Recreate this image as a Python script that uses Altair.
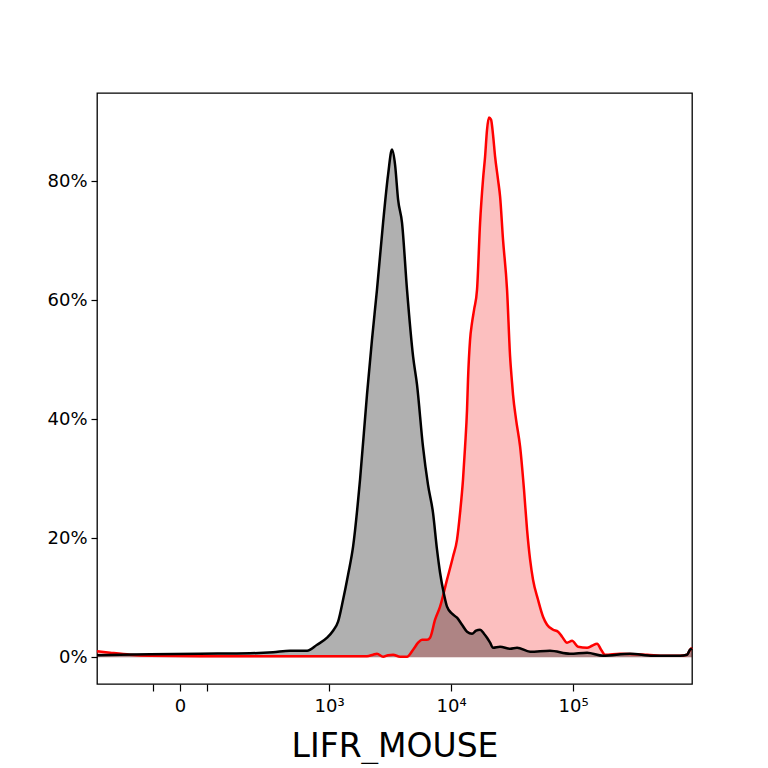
import altair as alt
import pandas as pd

# x positions are in "decade" units of the biexponential axis (3 -> 10^3, 4 -> 10^4 ...)
black_x = [1.098, 1.287, 1.533, 1.943, 2.352, 2.541, 2.680, 2.820, 2.902, 2.984,
           3.033, 3.074, 3.115, 3.156, 3.197, 3.254, 3.311, 3.352, 3.393, 3.443,
           3.484, 3.516, 3.541, 3.566, 3.598, 3.639, 3.689, 3.721, 3.770, 3.811,
           3.852, 3.885, 3.910, 3.943, 3.967, 4.008, 4.049, 4.090, 4.131, 4.172,
           4.205, 4.238, 4.270, 4.295, 4.320, 4.344, 4.402, 4.484, 4.541, 4.648,
           4.811, 4.975, 5.115, 5.246, 5.467, 5.656, 5.877, 5.934, 5.959, 5.975]
black_pct = [0.34, 0.42, 0.50, 0.59, 0.67, 0.84, 1.09, 1.09, 2.10, 3.28,
             4.45, 5.97, 9.66, 13.87, 18.57, 29.83, 44.12, 53.36, 61.76, 73.03,
             81.09, 85.29, 82.77, 76.89, 73.03, 61.76, 50.50, 45.80, 35.38, 28.99,
             24.29, 18.07, 14.20, 10.50, 8.49, 7.31, 6.64, 5.46, 4.29, 3.95,
             4.45, 4.62, 3.95, 3.28, 2.44, 1.60, 1.76, 1.43, 1.60, 0.92,
             1.09, 0.59, 0.76, 0.25, 0.59, 0.25, 0.25, 0.42, 1.26, 1.43]

red_x = [1.098, 1.205, 1.369, 1.533, 1.943, 2.762, 3.254, 3.311, 3.361, 3.393,
         3.443, 3.484, 3.525, 3.582, 3.639, 3.689, 3.730, 3.762, 3.803, 3.828,
         3.869, 3.910, 3.967, 4.016, 4.049, 4.074, 4.098, 4.115, 4.131, 4.139,
         4.156, 4.172, 4.189, 4.213, 4.238, 4.262, 4.279, 4.295, 4.311, 4.328,
         4.344, 4.361, 4.385, 4.402, 4.426, 4.459, 4.484, 4.500, 4.508, 4.533,
         4.566, 4.598, 4.623, 4.648, 4.672, 4.713, 4.754, 4.787, 4.836, 4.877,
         4.910, 4.951, 4.992, 5.041, 5.115, 5.156, 5.197, 5.230, 5.262, 5.385,
         5.607, 5.754, 5.877, 5.934, 5.959, 5.975]
red_pct = [1.01, 0.76, 0.42, 0.25, 0.17, 0.17, 0.17, 0.17, 0.42, 0.59,
           0.08, 0.34, 0.42, 0.08, 0.08, 1.26, 2.44, 2.94, 2.94, 3.28,
           6.30, 8.49, 13.03, 16.89, 19.75, 24.29, 29.83, 35.38, 41.60, 46.64,
           53.36, 56.22, 58.40, 61.76, 73.03, 80.25, 84.12, 88.66, 90.67, 90.34,
           87.82, 84.12, 80.25, 77.39, 70.17, 61.76, 50.50, 46.13, 44.12, 39.92,
           35.38, 28.15, 21.43, 16.39, 13.03, 9.66, 6.81, 5.46, 4.62, 4.29,
           3.45, 2.44, 2.77, 1.76, 1.60, 1.93, 2.27, 1.26, 0.42, 0.59,
           0.42, 0.25, 0.25, 0.42, 1.26, 1.60]

x_tick_values = [1.553, 1.779, 1.996, 3, 4, 5]
x_tick_labels = ["", "0", "", "10³", "10⁴", "10⁵"]
y_tick_values = [0, 20, 40, 60, 80]
x_domain = [1.098, 5.975]
y_domain = [-4.5, 94.8]
x_title = "LIFR_MOUSE"

black_df = pd.DataFrame({"u": black_x, "pct": black_pct})
red_df = pd.DataFrame({"u": red_x, "pct": red_pct})

label_expr = " : ".join(
    f"abs(datum.value - {v}) < 0.01 ? '{l}'" for v, l in zip(x_tick_values, x_tick_labels)
) + " : ''"

x_enc = alt.X(
    "u:Q",
    scale=alt.Scale(domain=x_domain, nice=False, zero=False),
    axis=alt.Axis(
        values=x_tick_values,
        labelExpr=label_expr,
        title=x_title,
        titleFontSize=33,
        titleFontWeight="normal",
        titleColor="black",
        titlePadding=15,
        labelFontSize=18,
        labelColor="black",
        labelPadding=6,
        tickColor="black",
        tickSize=7,
        tickWidth=1.2,
        grid=False,
        domain=False,
        labelFlush=False,
        labelOverlap=False,
    ),
)
y_enc = alt.Y(
    "pct:Q",
    scale=alt.Scale(domain=y_domain, nice=False, zero=False),
    axis=alt.Axis(
        values=y_tick_values,
        labelExpr="datum.value + '%'",
        title=None,
        labelFontSize=18,
        labelColor="black",
        labelPadding=4,
        tickColor="black",
        tickSize=6,
        tickWidth=1.2,
        grid=False,
        domain=False,
    ),
)

red_area = alt.Chart(red_df).mark_area(
    color="#f20000", opacity=0.25, interpolate="monotone"
).encode(x=x_enc, y=y_enc, y2=alt.datum(0))
black_area = alt.Chart(black_df).mark_area(
    color="#000000", opacity=0.31, interpolate="monotone"
).encode(x=x_enc, y=y_enc, y2=alt.datum(0))
red_line = alt.Chart(red_df).mark_line(
    color="#ff0000", strokeWidth=2.5, interpolate="monotone"
).encode(x=x_enc, y=y_enc)
black_line = alt.Chart(black_df).mark_line(
    color="#000000", strokeWidth=2.5, interpolate="monotone"
).encode(x=x_enc, y=y_enc)

chart = (
    alt.layer(red_area, black_area, red_line, black_line)
    .properties(
        width=595,
        height=591,
        autosize="none",
        padding={"left": 89, "top": 85, "right": 60, "bottom": 80},
    )
    .configure(font="DejaVu Sans")
    .configure_view(stroke="black", strokeWidth=1.3)
)

chart.save("out.html", embed_options={"renderer": "svg", "actions": False})
